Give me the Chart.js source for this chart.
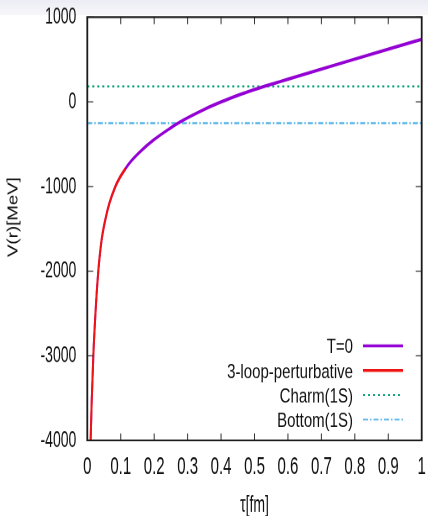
<!DOCTYPE html>
<html>
<head>
<meta charset="utf-8">
<title>V(r)</title>
<script src="https://cdn.jsdelivr.net/npm/chart.js@4/dist/chart.umd.min.js"></script>
<style>
  html, body { margin: 0; padding: 0; background: #fff; }
  #band { position: absolute; left: 0; top: 0; width: 428px; height: 15px; background: linear-gradient(#ececf4, #f7f7fb); }
  #wrap { position: absolute; left: 0; top: 0; width: 428px; height: 307px; transform: scaleY(1.6808); transform-origin: 0 0; }
</style>
</head>
<body>
<div id="band"></div>
<div id="wrap"><canvas id="myChart" style="width:428px;height:307px"></canvas></div>
<script>
"use strict";

// the original figure is squashed sideways, so the chart is drawn flat and stretched back
const K = 516 / 307;
const FONT = "'Liberation Sans', Arial, sans-serif";

let xTicks = [0, 0.1, 0.2, 0.3, 0.4, 0.5, 0.6, 0.7, 0.8, 0.9, 1];
let xTickLabels = ["0", "0.1", "0.2", "0.3", "0.4", "0.5", "0.6", "0.7", "0.8", "0.9", "1"];
let yTicks = [-4000, -3000, -2000, -1000, 0, 1000];
let yTickLabels = ["-4000", "-3000", "-2000", "-1000", "0", "1000"];

// T=0 potential (runs under the perturbative curve at short distance)
let rT0 = [0.010, 0.013, 0.018, 0.026, 0.033, 0.038, 0.044, 0.054, 0.066, 0.084, 0.098,
  0.114, 0.128, 0.158, 0.197, 0.247, 0.272, 0.300, 0.350, 0.400, 0.450, 0.500, 0.531, 0.576, 0.776, 1.0];
let vT0 = [-4000, -3560, -3000, -2390, -1995, -1790, -1600, -1390, -1200, -1000, -890,
  -790, -715, -590, -455, -315, -252, -189, -89, -2, 75, 144, 184, 238, 476, 737];

// 3-loop perturbative (short distance only)
let rPert = [0.010, 0.013, 0.018, 0.026, 0.033, 0.038, 0.044, 0.054, 0.066, 0.084, 0.098, 0.114];
let vPert = [-4000, -3560, -3000, -2390, -1995, -1790, -1600, -1390, -1200, -1000, -890, -790];

// 1S levels
let levelX = [0, 1];
let charm1S = [182, 182];
let bottom1S = [-252, -252];

const pts = (xs, ys) => xs.map((v, i) => ({ x: v, y: ys[i] }));

// no extra room for tick labels at the ends, the layout padding places the box
const noOverhang = (s) => {
  s.paddingTop = 0;
  s.paddingBottom = 0;
  s.paddingLeft = 0;
  s.paddingRight = 0;
};

const frame = {
  id: "frame",
  afterDraw(chart) {
    const { ctx, chartArea: a, scales: { x, y } } = chart;
    ctx.save();

    // gnuplot style ticks, pointing inward on all four sides
    ctx.strokeStyle = "#333";
    ctx.lineWidth = 1;
    xTicks.forEach((v) => {
      const px = x.getPixelForValue(v);
      ctx.beginPath();
      ctx.moveTo(px, a.bottom);
      ctx.lineTo(px, a.bottom - 7 / K);
      ctx.moveTo(px, a.top);
      ctx.lineTo(px, a.top + 7 / K);
      ctx.stroke();
    });
    ctx.lineWidth = 1 / K;
    yTicks.forEach((v) => {
      const py = y.getPixelForValue(v);
      ctx.beginPath();
      ctx.moveTo(a.left, py);
      ctx.lineTo(a.left + 6, py);
      ctx.moveTo(a.right, py);
      ctx.lineTo(a.right - 6, py);
      ctx.stroke();
    });

    // box
    ctx.strokeStyle = "#1a1a1a";
    ctx.lineWidth = 1.8;
    ctx.beginPath();
    ctx.moveTo(a.left, a.top);
    ctx.lineTo(a.left, a.bottom);
    ctx.moveTo(a.right, a.top);
    ctx.lineTo(a.right, a.bottom);
    ctx.stroke();
    ctx.lineWidth = 1.8 / K;
    ctx.beginPath();
    ctx.moveTo(a.left - 0.9, a.top);
    ctx.lineTo(a.right + 0.9, a.top);
    ctx.moveTo(a.left - 0.9, a.bottom);
    ctx.lineTo(a.right + 0.9, a.bottom);
    ctx.stroke();

    // key, text on the left and sample on the right
    ctx.font = "15px " + FONT;
    ctx.fillStyle = "#111";
    ctx.textAlign = "right";
    ctx.textBaseline = "middle";
    chart.data.datasets.forEach((ds, i) => {
      const ty = (347.8 + 24.6 * i) / K;
      ctx.save();
      ctx.translate(353, ty);
      ctx.scale(1, 0.79);
      ctx.fillText(ds.label, 0, 0);
      ctx.restore();
      ctx.save();
      ctx.strokeStyle = ds.borderColor;
      ctx.lineWidth = ds.keyWidth / K;
      ctx.setLineDash(ds.borderDash || []);
      ctx.beginPath();
      ctx.moveTo(363, ty - 2 / K);
      ctx.lineTo(403, ty - 2 / K);
      ctx.stroke();
      ctx.restore();
    });

    // y axis title
    ctx.save();
    ctx.translate(13.5, 217 / K);
    ctx.rotate(-Math.PI / 2);
    ctx.scale(0.74, 1);
    ctx.font = "15px " + FONT;
    ctx.textAlign = "center";
    ctx.textBaseline = "middle";
    ctx.fillText("V(r)[MeV]", 0, 0);
    ctx.restore();

    ctx.restore();
  },
};

const ctx = document.getElementById("myChart");

new Chart(ctx, {
  type: "line",
  data: {
    datasets: [
      {
        label: "T=0",
        data: pts(rT0, vT0),
        borderColor: "#9400d3",
        borderWidth: 2,
        keyWidth: 3,
        cubicInterpolationMode: "monotone",
        pointRadius: 0,
        order: 1,
      },
      {
        label: "3-loop-perturbative",
        data: pts(rPert, vPert),
        borderColor: "#ee1414",
        borderWidth: 2,
        keyWidth: 3,
        cubicInterpolationMode: "monotone",
        pointRadius: 0,
        order: 0,
      },
      {
        label: "Charm(1S)",
        data: pts(levelX, charm1S),
        borderColor: "#009e73",
        borderWidth: 1.2,
        keyWidth: 1.8,
        borderDash: [2, 3],
        pointRadius: 0,
        order: 2,
      },
      {
        label: "Bottom(1S)",
        data: pts(levelX, bottom1S),
        borderColor: "#56b4e9",
        borderWidth: 1.2,
        keyWidth: 1.8,
        borderDash: [5, 2, 1.5, 2],
        pointRadius: 0,
        order: 3,
      },
    ],
  },
  options: {
    responsive: false,
    animation: false,
    devicePixelRatio: 2,
    layout: { padding: { left: 0, right: 428 - 421.7, top: 17.1 / K, bottom: 0 } },
    plugins: {
      legend: { display: false },
      tooltip: { enabled: false },
    },
    scales: {
      x: {
        type: "linear",
        min: 0,
        max: 1,
        grid: { display: false, drawTicks: false },
        border: { display: false },
        afterBuildTicks: (s) => {
          s.ticks = xTicks.map((v) => ({ value: v }));
        },
        afterFit: (s) => {
          s.height = 307 - 440.4 / K;
          noOverhang(s);
        },
        ticks: {
          autoSkip: false,
          maxRotation: 0,
          padding: 7,
          color: "#111",
          font: { family: FONT, size: 15 },
          callback: (v) => xTickLabels[xTicks.indexOf(v)],
        },
        title: {
          display: true,
          text: "τ[fm]",
          color: "#111",
          padding: 0,
          font: { family: FONT, size: 14, lineHeight: 0.93 },
        },
      },
      y: {
        type: "linear",
        min: -4000,
        max: 1000,
        grid: { display: false, drawTicks: false },
        border: { display: false },
        afterBuildTicks: (s) => {
          s.ticks = yTicks.map((v) => ({ value: v }));
        },
        afterFit: (s) => {
          s.width = 87.3;
          noOverhang(s);
        },
        ticks: {
          padding: 11,
          color: "#111",
          font: { family: FONT, size: 14 },
          callback: (v) => yTickLabels[yTicks.indexOf(v)],
        },
      },
    },
  },
  plugins: [frame],
});
</script>
</body>
</html>
